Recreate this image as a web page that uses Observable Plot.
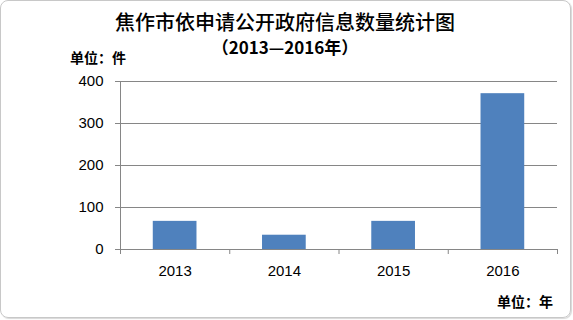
<!DOCTYPE html>
<html>
<head>
<meta charset="utf-8">
<script src="https://cdn.jsdelivr.net/npm/d3@7"></script>
<script src="https://cdn.jsdelivr.net/npm/@observablehq/plot@0.6"></script>
<style>
  html, body { margin: 0; padding: 0; background: #fff; }
  #wrap { position: relative; width: 573px; height: 320px; overflow: hidden; }
  #frame { position: absolute; left: 0; top: 0; width: 569px; height: 316px; border: 1px solid #c8c8c8; border-radius: 8px; box-shadow: 1px 1px 1px #d8d8d8; }
  .t { position: absolute; white-space: nowrap; color: #000; font-family: "Noto Sans CJK SC", sans-serif; }
  #title { left: 0; width: 570px; text-align: center; top: 9px; font-size: 20px; font-weight: 500; line-height: 26px; }
  #subtitle { left: 0; width: 570px; text-align: center; top: 35px; font-size: 17px; font-weight: 700; line-height: 23px; }
  #yunit { left: 70px; top: 47px; font-size: 14px; font-weight: 700; line-height: 20px; }
  #xunit { left: 497px; top: 291px; font-size: 14px; font-weight: 700; line-height: 20px; }
  #chart { position: absolute; left: 0; top: 0; }
</style>
</head>
<body>
<div id="wrap">
  <div id="frame"></div>
  <div id="chart"></div>
  <div class="t" id="title">焦作市依申请公开政府信息数量统计图</div>
  <div class="t" id="subtitle">（2013—2016年）</div>
  <div class="t" id="yunit">单位：件</div>
  <div class="t" id="xunit">单位：年</div>
</div>
<script>
const years = [2013, 2014, 2015, 2016];
const counts = [67, 34, 67, 371];
const yTicks = [0, 100, 200, 300, 400];

const data = years.map((year, i) => ({year, count: counts[i]}));
const bounds = [years[0] - 0.5, ...years.map(y => y + 0.5)];
const gray = "#868686";

const chart = Plot.plot({
  width: 573,
  height: 320,
  marginTop: 81,
  marginBottom: 71,
  marginLeft: 120,
  marginRight: 16,
  style: { fontFamily: "'Liberation Sans', Arial, sans-serif", fontSize: "15px", background: "transparent", color: "#000" },
  x: { domain: [bounds[0], bounds[bounds.length - 1]], axis: null },
  y: { domain: [0, 400], axis: null },
  marks: [
    Plot.gridY(yTicks.slice(1), { stroke: gray, strokeOpacity: 1, strokeWidth: 1 }),
    Plot.rectY(data, { x1: d => d.year - 0.2, x2: d => d.year + 0.2, y: "count", fill: "#4F81BD" }),
    Plot.ruleX([bounds[0]], { y1: 0, y2: 400, stroke: gray }),
    Plot.ruleY([0], { stroke: gray }),
    Plot.axisY(yTicks, { anchor: "left", label: null, tickSize: 5, tickPadding: 12, stroke: gray, fill: "#000", tickFormat: d => String(d) }),
    Plot.axisX(bounds, { anchor: "bottom", label: null, tickSize: 5, stroke: gray, tickFormat: () => "" }),
    Plot.axisX(years, { anchor: "bottom", label: null, tickSize: 0, tickPadding: 16, fill: "#000", tickFormat: d => String(d) })
  ]
});
document.getElementById("chart").appendChild(chart);
</script>
</body>
</html>
